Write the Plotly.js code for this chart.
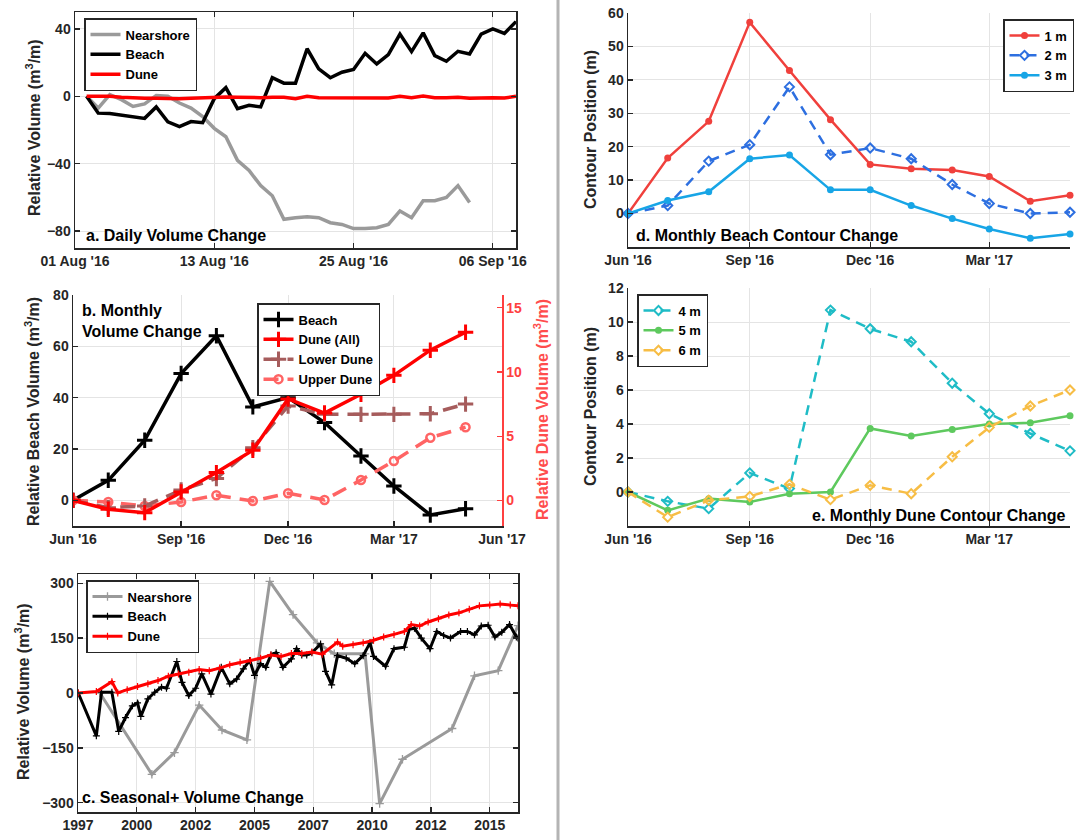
<!DOCTYPE html>
<html>
<head>
<meta charset="utf-8">
<script src="https://cdn.plot.ly/plotly-3.0.1.min.js"></script>
<style>
html,body{margin:0;padding:0;background:#fff;}
#chart{width:1082px;height:840px;}
</style>
</head>
<body>
<div id="chart"></div>
<script>
// ---------------- Panel a: daily volume change ----------------
const dailyDates = ['2016-08-02','2016-08-03','2016-08-04','2016-08-05','2016-08-06','2016-08-07','2016-08-08','2016-08-09','2016-08-10','2016-08-11',
  '2016-08-12','2016-08-13','2016-08-14','2016-08-15','2016-08-16','2016-08-17','2016-08-18','2016-08-19','2016-08-20','2016-08-21',
  '2016-08-22','2016-08-23','2016-08-24','2016-08-25','2016-08-26','2016-08-27','2016-08-28','2016-08-29','2016-08-30','2016-08-31',
  '2016-09-01','2016-09-02','2016-09-03','2016-09-04','2016-09-05','2016-09-06','2016-09-07','2016-09-08'];
const dailyBeach = [0,-10,-10.2,-11.2,-12.2,-13.1,-6.3,-15.1,-18,-15,-15.7,-1.4,5.1,-7.3,-5.3,-6.3,11,7.8,7.8,28.2,
  16.3,11,14.3,15.9,25.5,19.2,24.7,36.9,26.5,37.6,24.1,20.8,26.7,25.1,36.9,40,37.3,44.3];
const dailyNearshore = [0,-7,1,-2,-6,-4.5,0.5,0,-4,-7,-12,-19,-24,-38,-44,-53,-59,-73,-72,-71.5,
  -72,-75,-76,-78.5,-78.5,-78,-76,-68,-72,-62,-62,-60,-53,-63];
const dailyDune = [0,0.2,0,-0.6,-1,-1.2,-1.2,-1.4,-1.4,-1.2,-0.8,-0.4,-0.4,-0.6,-0.8,-0.8,-0.6,-0.6,-1.4,0,
  -0.8,-0.8,-0.8,-0.8,-0.8,-0.8,-1,0,-0.8,0.2,-0.8,-0.8,-0.6,-1.2,-0.8,-0.8,-1,0];
const dailyTicks = ['2016-08-01','2016-08-13','2016-08-25','2016-09-06'];

// ---------------- Panel b: monthly volume change ----------------
const monthDates = ['2016-06-01','2016-07-01','2016-08-01','2016-09-01','2016-10-01','2016-11-01',
  '2016-12-01','2017-01-01','2017-02-01','2017-03-01','2017-04-01','2017-05-01'];
const monthBeach = [0,7.8,23.4,49.4,64.1,36.4,40,30.3,17.3,5.6,-5.7,-3.3];
const monthDuneAll = [0,-0.7,-0.96,0.65,2.16,3.9,7.9,6.8,8.26,9.74,11.7,13.1];
const monthLowerDune = [0,-0.57,-0.44,0.8,1.7,4.1,7.35,6.7,6.7,6.7,6.75,7.5];
const monthUpperDune = [0,-0.13,-0.44,-0.13,0.39,-0.05,0.55,0.03,1.58,3.06,4.88,5.7];
const monthTicksB = ['2016-06-01','2016-09-01','2016-12-01','2017-03-01','2017-06-01'];

// ---------------- Panel c: seasonal+ volume change ----------------
const seasNearYears = [1998.43,2000.64,2001.60,2002.65,2003.62,2004.68,2005.65,2006.64,2007.66,2008.39,2009.70,2010.32,2011.29,2013.40,2014.35,2015.36,2016.2];
const seasNear = [0,-222,-163,-33,-101,-128,305,214,137,107,107,-302,-181,-97,47,61,184];
const seasBeachYears = [1997.51,1998.28,1998.50,1998.94,1999.23,1999.52,1999.81,2000.03,2000.17,2000.47,2000.76,2001.05,2001.26,2001.70,2001.92,
  2002.21,2002.50,2002.76,2003.15,2003.59,2003.95,2004.24,2004.53,2004.80,2005.00,2005.26,2005.48,2005.70,2005.92,2006.21,2006.57,2006.79,
  2007.01,2007.22,2007.44,2007.81,2008.02,2008.28,2008.53,2008.90,2009.26,2009.62,2009.91,2010.06,2010.57,2010.93,2011.37,2011.58,2011.80,
  2012.09,2012.46,2012.75,2013.04,2013.33,2013.76,2014.05,2014.35,2014.64,2014.93,2015.22,2015.51,2015.84,2016.13,2016.2];
const seasBeach = [0,-117,2,2,-105,-67,-35,-27,-64,-16,2,16,13,86,29,
  -7,13,52,-3,70,25,38,66,89,48,80,70,104,110,70,93,121,
  104,104,110,134,59,22,102,95,80,102,137,100,73,121,125,174,177,
  150,121,168,157,150,168,168,159,183,185,153,166,187,153,150];
const seasDuneYears = [1997.51,1998.28,1998.94,1999.19,1999.59,2000.03,2000.47,2000.90,2001.34,2001.77,2002.21,2002.65,2003.08,2003.52,2003.95,
  2004.39,2004.83,2005.26,2005.70,2006.13,2006.57,2007.01,2007.44,2007.88,2008.53,2008.75,2009.19,2009.62,2010.06,2010.49,2010.93,2011.37,
  2011.66,2012.02,2012.38,2012.82,2013.26,2013.69,2014.13,2014.56,2015.00,2015.44,2015.87,2016.2];
const seasDune = [0,4,31,0,9,18,25,34,46,52,57,64,61,68,77,
  84,89,95,104,100,108,108,112,106,139,128,132,137,144,153,160,168,
  187,183,194,203,213,219,229,238,240,243,240,238];
const seasTickVals = [1997.5,2000,2002.5,2005,2007.5,2010,2012.5,2015];
const seasTickText = ['1997','2000','2002','2005','2007','2010','2012','2015'];

// ---------------- Panel d: monthly beach contour ----------------
const contour1m = [0,16.6,27.6,57.2,42.8,28.1,14.7,13.4,13,11.1,3.7,5.5];
const contour2m = [0,2.4,15.7,20.6,37.9,17.6,19.6,16.4,8.7,3,0,0.4];
const contour3m = [0,3.9,6.5,16.4,17.5,7.1,7.1,2.4,-1.5,-4.6,-7.4,-6.1];
// ---------------- Panel e: monthly dune contour ----------------
const contour4m = [0,-0.55,-0.98,1.12,0.2,10.7,9.6,8.84,6.4,4.6,3.44,2.42];
const contour5m = [0,-1.08,-0.39,-0.59,-0.1,0,3.74,3.29,3.68,4.0,4.07,4.49];
const contour6m = [0,-1.48,-0.49,-0.26,0.45,-0.45,0.39,-0.1,2.07,3.8,5.06,6.0];
const monthTicksDE = ['2016-06-01','2016-09-01','2016-12-01','2017-03-01'];

// ---------------- layout helpers ----------------
const W = 1082, H = 840;
const px = v => v / W;
const py = v => 1 - v / H;
const FONT = 'Liberation Sans, Arial, Helvetica, sans-serif';
const INK = '#262626';
const GRID = '#e4e4e4';

function axBase(extra) {
  return Object.assign({
    showline: true, linecolor: INK, linewidth: 1.5,
    ticks: 'inside', ticklen: 5, tickwidth: 1.3, tickcolor: INK,
    showgrid: true, gridcolor: GRID, gridwidth: 1, zeroline: false,
    tickfont: {family: FONT, size: 14, color: INK, weight: 'bold'},
    fixedrange: true
  }, extra);
}

const traces = [
  // a
  {x: dailyDates.slice(0, dailyNearshore.length), y: dailyNearshore, name: 'Nearshore', mode: 'lines',
   line: {color: '#9a9a9a', width: 3.5}, xaxis: 'x', yaxis: 'y', legend: 'legend'},
  {x: dailyDates, y: dailyBeach, name: 'Beach', mode: 'lines',
   line: {color: '#000000', width: 3.5}, xaxis: 'x', yaxis: 'y', legend: 'legend'},
  {x: dailyDates, y: dailyDune, name: 'Dune', mode: 'lines',
   line: {color: '#ff0000', width: 3.5}, xaxis: 'x', yaxis: 'y', legend: 'legend'},
  // b
  {x: monthDates, y: monthBeach, name: 'Beach', mode: 'lines+markers',
   line: {color: '#000000', width: 3.5},
   marker: {symbol: 'cross-thin', size: 11, line: {color: '#000000', width: 3}},
   xaxis: 'x2', yaxis: 'y2', legend: 'legend2', legendrank: 1},
  {x: monthDates, y: monthUpperDune, name: 'Upper Dune', mode: 'lines+markers',
   line: {color: '#ff6464', width: 3.5, dash: '15px,9px'},
   marker: {symbol: 'circle-open', size: 8, line: {color: '#ff6464', width: 2.5}},
   xaxis: 'x2', yaxis: 'y3', legend: 'legend2', legendrank: 4},
  {x: monthDates, y: monthLowerDune, name: 'Lower Dune', mode: 'lines+markers',
   line: {color: '#a65c5c', width: 3.5, dash: '15px,9px'},
   marker: {symbol: 'cross-thin', size: 11, line: {color: '#a65c5c', width: 3}},
   xaxis: 'x2', yaxis: 'y3', legend: 'legend2', legendrank: 3},
  {x: monthDates, y: monthDuneAll, name: 'Dune (All)', mode: 'lines+markers',
   line: {color: '#ff0000', width: 3.5},
   marker: {symbol: 'cross-thin', size: 11, line: {color: '#ff0000', width: 3}},
   xaxis: 'x2', yaxis: 'y3', legend: 'legend2', legendrank: 2},
  // c
  {x: seasNearYears, y: seasNear, name: 'Nearshore', mode: 'lines+markers',
   line: {color: '#9a9a9a', width: 3},
   marker: {symbol: 'cross-thin', size: 6, line: {color: '#9a9a9a', width: 1.3}},
   xaxis: 'x3', yaxis: 'y4', legend: 'legend3', legendrank: 1},
  {x: seasBeachYears, y: seasBeach, name: 'Beach', mode: 'lines+markers',
   line: {color: '#000000', width: 3},
   marker: {symbol: 'cross-thin', size: 5, line: {color: '#000000', width: 1.2}},
   xaxis: 'x3', yaxis: 'y4', legend: 'legend3', legendrank: 2},
  {x: seasDuneYears, y: seasDune, name: 'Dune', mode: 'lines+markers',
   line: {color: '#ff0000', width: 3},
   marker: {symbol: 'cross-thin', size: 5, line: {color: '#ff0000', width: 1.2}},
   xaxis: 'x3', yaxis: 'y4', legend: 'legend3', legendrank: 3},
  // d
  {x: monthDates, y: contour1m, name: '1 m', mode: 'lines+markers',
   line: {color: '#f0403c', width: 2.5}, marker: {symbol: 'circle', size: 7, color: '#f0403c'},
   xaxis: 'x4', yaxis: 'y5', legend: 'legend4', cliponaxis: false},
  {x: monthDates, y: contour2m, name: '2 m', mode: 'lines+markers',
   line: {color: '#2d6fe0', width: 2.5, dash: '10px,7px'},
   marker: {symbol: 'diamond-open', size: 7, line: {color: '#2d6fe0', width: 2}},
   xaxis: 'x4', yaxis: 'y5', legend: 'legend4', cliponaxis: false},
  {x: monthDates, y: contour3m, name: '3 m', mode: 'lines+markers',
   line: {color: '#17a5e6', width: 2.5}, marker: {symbol: 'circle', size: 7, color: '#17a5e6'},
   xaxis: 'x4', yaxis: 'y5', legend: 'legend4', cliponaxis: false},
  // e
  {x: monthDates, y: contour4m, name: '4 m', mode: 'lines+markers',
   line: {color: '#1fbcc6', width: 2.5, dash: '10px,7px'},
   marker: {symbol: 'diamond-open', size: 7, line: {color: '#1fbcc6', width: 2}},
   xaxis: 'x5', yaxis: 'y6', legend: 'legend5', cliponaxis: false},
  {x: monthDates, y: contour5m, name: '5 m', mode: 'lines+markers',
   line: {color: '#5ec95e', width: 2.5}, marker: {symbol: 'circle', size: 7, color: '#5ec95e'},
   xaxis: 'x5', yaxis: 'y6', legend: 'legend5', cliponaxis: false},
  {x: monthDates, y: contour6m, name: '6 m', mode: 'lines+markers',
   line: {color: '#f7bd45', width: 2.5, dash: '10px,7px'},
   marker: {symbol: 'diamond-open', size: 7, line: {color: '#f7bd45', width: 2}},
   xaxis: 'x5', yaxis: 'y6', legend: 'legend5', cliponaxis: false}
];

function legendBox(x, y) {
  return {x: px(x), y: py(y), xanchor: 'left', yanchor: 'top', bgcolor: '#ffffff',
    bordercolor: INK, borderwidth: 1.5, font: {family: FONT, size: 13, color: '#000', weight: 'bold'},
    tracegroupgap: 0, itemwidth: 30, traceorder: 'normal'};
}

function ann(text, x, y, opts) {
  return Object.assign({text: text, x: px(x), y: py(y), xref: 'paper', yref: 'paper', showarrow: false,
    font: {family: FONT, size: 16, color: '#000', weight: 'bold'}}, opts || {});
}
function ytitle(text, x, y, color) {
  return ann(text, x, y, {textangle: -90, xanchor: 'center', yanchor: 'middle',
    font: {family: FONT, size: 16, color: color || INK, weight: 'bold'}});
}

const layout = {
  width: W, height: H, margin: {l: 0, r: 0, t: 0, b: 0},
  paper_bgcolor: '#ffffff', plot_bgcolor: '#ffffff',
  font: {family: FONT, size: 14, color: INK, weight: 'bold'},
  showlegend: true,
  // a
  xaxis: axBase({domain: [px(75), px(516)], anchor: 'y', type: 'date', range: ['2016-08-01', '2016-09-08'],
    tickvals: dailyTicks, tickformat: "%d %b '%y", mirror: 'ticks'}),
  yaxis: axBase({domain: [py(248), py(12)], anchor: 'x', range: [-90, 50], tickvals: [-80, -40, 0, 40], mirror: 'ticks'}),
  // b
  xaxis2: axBase({domain: [px(73), px(502)], anchor: 'y2', type: 'date', range: ['2016-06-01', '2017-06-01'],
    tickvals: monthTicksB, tickformat: "%b '%y"}),
  yaxis2: axBase({domain: [py(526), py(295)], anchor: 'x2', range: [-10, 80], tickvals: [0, 20, 40, 60, 80]}),
  yaxis3: axBase({overlaying: 'y2', anchor: 'x2', side: 'right', range: [-2, 16], tickvals: [0, 5, 10, 15],
    showgrid: false, linecolor: '#ff4040', tickcolor: '#ff4040',
    tickfont: {family: FONT, size: 14, color: '#ff4040', weight: 'bold'}}),
  // c
  xaxis3: axBase({domain: [px(78), px(518)], anchor: 'y4', range: [1997.5, 2016.2],
    tickvals: seasTickVals, ticktext: seasTickText, mirror: 'ticks'}),
  yaxis4: axBase({domain: [py(812), py(574)], anchor: 'x3', range: [-325, 325],
    tickvals: [-300, -150, 0, 150, 300], mirror: 'ticks'}),
  // d
  xaxis4: axBase({domain: [px(628), px(1070)], anchor: 'y5', type: 'date', range: ['2016-06-01', '2017-05-01'],
    tickvals: monthTicksDE, tickformat: "%b '%y"}),
  yaxis5: axBase({domain: [py(247), py(13)], anchor: 'x4', range: [-10, 60], tickvals: [0, 10, 20, 30, 40, 50, 60]}),
  // e
  xaxis5: axBase({domain: [px(628), px(1070)], anchor: 'y6', type: 'date', range: ['2016-06-01', '2017-05-01'],
    tickvals: monthTicksDE, tickformat: "%b '%y"}),
  yaxis6: axBase({domain: [py(526), py(288)], anchor: 'x5', range: [-2, 12], tickvals: [0, 2, 4, 6, 8, 10, 12]}),
  legend: legendBox(84, 18),
  legend2: legendBox(257, 303),
  legend3: legendBox(86, 580),
  legend4: legendBox(1003, 19),
  legend5: legendBox(637, 294),
  shapes: [
    {type: 'line', xref: 'paper', yref: 'paper', x0: px(558), x1: px(558), y0: 0, y1: 1,
     line: {color: '#b4b4b4', width: 3}}
  ],
  annotations: [
    ytitle('Relative Volume (m<sup>3</sup>/m)', 33, 128),
    ytitle('Relative Beach Volume (m<sup>3</sup>/m)', 32, 412),
    ytitle('Relative Dune Volume (m<sup>3</sup>/m)', 541, 410, '#ff4d4d'),
    ytitle('Relative Volume (m<sup>3</sup>/m)', 22, 692),
    ytitle('Contour Position (m)', 590, 130),
    ytitle('Contour Position (m)', 590, 407),
    ann('a. Daily Volume Change', 84, 235, {xanchor: 'left', yanchor: 'middle'}),
    ann('b. Monthly<br>Volume Change', 80, 300, {xanchor: 'left', yanchor: 'top', align: 'left'}),
    ann('c. Seasonal+ Volume Change', 80, 797, {xanchor: 'left', yanchor: 'middle'}),
    ann('d. Monthly Beach Contour Change', 634, 235, {xanchor: 'left', yanchor: 'middle'}),
    ann('e. Monthly Dune Contour Change', 1067, 515, {xanchor: 'right', yanchor: 'middle'})
  ]
};

Plotly.newPlot('chart', traces, layout, {staticPlot: true, displayModeBar: false});
</script>
</body>
</html>
